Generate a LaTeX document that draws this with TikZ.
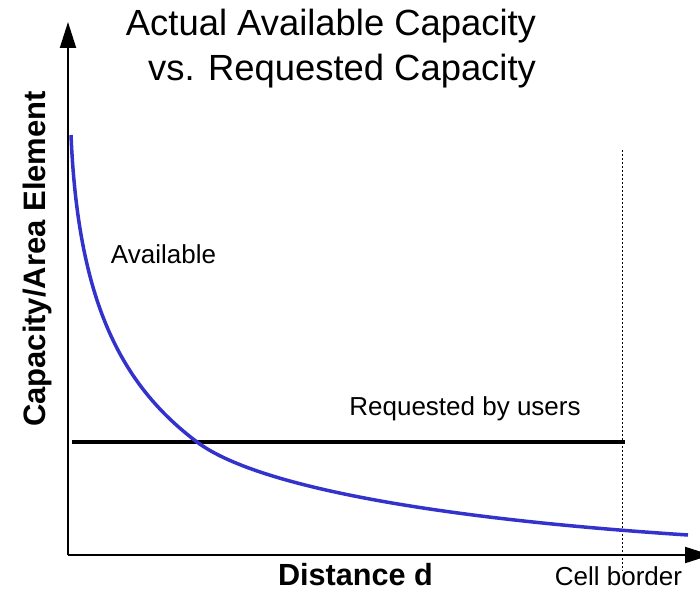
\documentclass[tikz,border=0pt]{standalone}
\usepackage{fontspec}
\setmainfont{Liberation Sans}
\usetikzlibrary{arrows.meta}
\definecolor{curveblue}{RGB}{51,51,204}
\begin{document}
\begin{tikzpicture}[x=1pt,y=-1pt,
  axis/.style={line width=2pt,-{Triangle[length=26pt,width=16pt]}},
  reglabel/.style={inner sep=0pt,font=\fontsize{26}{30}\selectfont},
  boldlabel/.style={inner sep=0pt,font=\fontsize{30.6}{34}\selectfont\bfseries},
  ylabelstyle/.style={inner sep=0pt,font=\fontsize{31}{34}\selectfont\bfseries},
  titlelabel/.style={inner sep=0pt,font=\fontsize{36.4}{42}\selectfont},
  availcurve/.style={curveblue,line width=3.5pt},
  reqline/.style={black,line width=3.5pt},
  borderline/.style={black,line width=0.8pt,dash pattern=on 2pt off 2pt}]
\useasboundingbox (0,0) rectangle (700,594);
% axes
\coordinate (O) at (68,555);
\coordinate (ytip) at (68,22);
\coordinate (xtip) at (711,555);
\draw[axis] (O) -- (ytip);
\draw[axis] (O) -- (xtip);
% requested line
\coordinate (req1) at (72,442);
\coordinate (req2) at (625,442);
\draw[reqline] (req1) -- (req2);
% cell border
\coordinate (cb1) at (622,150);
\coordinate (cb2) at (622,571);
\draw[borderline] (cb1) -- (cb2);
% available curve
\coordinate (cstart) at (71,135);
\coordinate (cmid) at (197,442);
\coordinate (cend) at (688,535);
\draw[availcurve] (cstart) .. controls (78,300) and (120,384) .. (cmid)
  .. controls (257,487) and (438,518.75) .. (cend);
% labels
\node[titlelabel,anchor=base] (t1) at (331,36) {Actual Available Capacity};
\node[titlelabel,anchor=base] (t2) at (342,80) {vs. Requested Capacity};
\node[ylabelstyle,anchor=base,rotate=90] (ylab) at (45,259) {Capacity/Area Element};
\node[boldlabel,anchor=base] (xlab) at (355.5,585) {Distance d};
\node[reglabel,anchor=base] (cell) at (618.5,585) {Cell border};
\node[reglabel,anchor=base] (avail) at (163.5,263) {Available};
\node[reglabel,anchor=base] (reqlab) at (465,415) {Requested by users};
\end{tikzpicture}
\end{document}
